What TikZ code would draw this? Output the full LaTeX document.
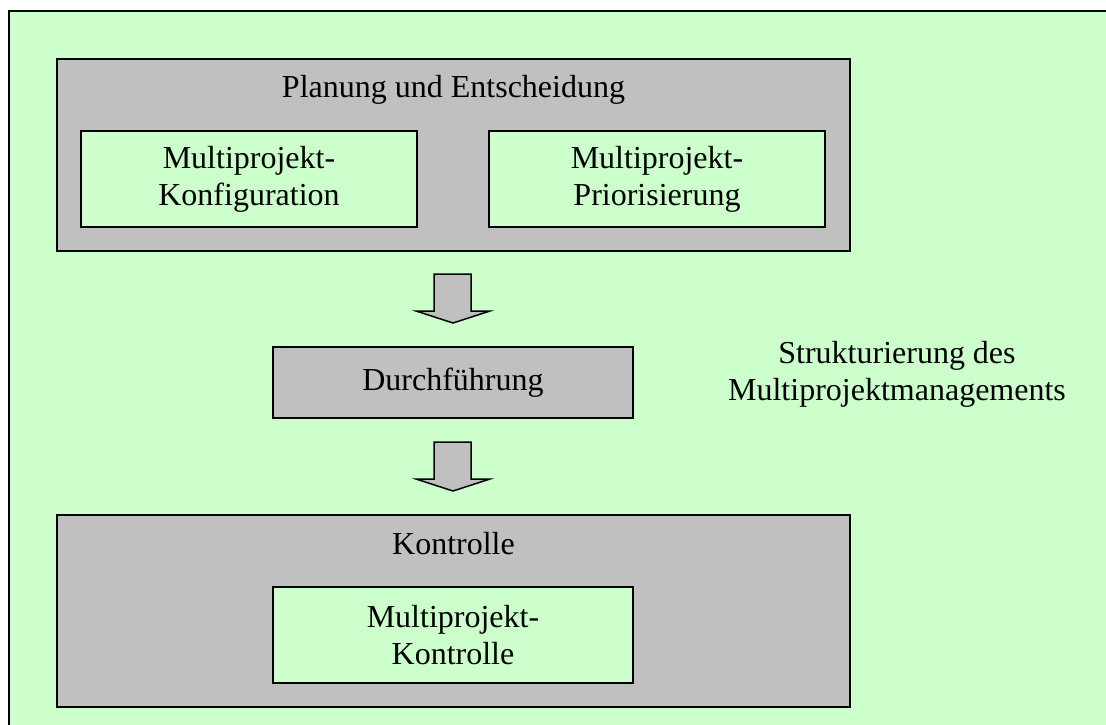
\documentclass[tikz,border=0pt]{standalone}
\usepackage{fontspec}
\setmainfont{Liberation Serif}
\definecolor{lgreen}{HTML}{CCFFCC}
\definecolor{lgray}{HTML}{C0C0C0}
\begin{document}
\begin{tikzpicture}[x=1pt,y=-1pt,
  every node/.style={font=\fontsize{32}{37}\selectfont},
  graybox/.style={draw=black,fill=lgray,line width=2pt,inner sep=0pt},
  greenbox/.style={draw=black,fill=lgreen,line width=2pt,inner sep=0pt,align=center},
  blockarrow/.style={draw=black,fill=lgray,line width=1.5pt,line join=miter},
  lbl/.style={inner sep=0pt,anchor=base}]
\useasboundingbox (0,0) rectangle (1106,725);
\clip (0,0) rectangle (1106,725);
% outer frame
\draw[fill=lgreen,line width=2pt] (9,11) rectangle (1130,745);
% Planung und Entscheidung
\node[graybox,minimum width=793pt,minimum height=192pt] (plan) at (453.5,155) {};
\node[lbl] (plantitle) at (453.5,98) {Planung und Entscheidung};
\node[greenbox,minimum width=336pt,minimum height=96pt] (konf) at (249,179) {Multiprojekt-\\Konfiguration};
\node[greenbox,minimum width=336pt,minimum height=96pt] (prio) at (657,179) {Multiprojekt-\\Priorisierung};
% arrow 1
\draw[blockarrow] (434,274) -- (471,274) -- (471,311) -- (490,311) -- (453,323) -- (416,311) -- (434,311) -- cycle;
% Durchfuehrung
\node[graybox,minimum width=360pt,minimum height=71pt] (durch) at (453,382.5) {Durchführung};
% arrow 2
\draw[blockarrow] (434,442) -- (471,442) -- (471,479) -- (490,479) -- (453,491) -- (416,479) -- (434,479) -- cycle;
% Kontrolle
\node[graybox,minimum width=793pt,minimum height=192pt] (kontr) at (453.5,611) {};
\node[lbl] (kontrtitle) at (453.5,554) {Kontrolle};
\node[greenbox,minimum width=360pt,minimum height=96pt] (mkontr) at (453,635) {Multiprojekt-\\Kontrolle};
% side label
\node[inner sep=0pt,align=center] (struk) at (897,374) {Strukturierung des\\Multiprojektmanagements};
\end{tikzpicture}
\end{document}
